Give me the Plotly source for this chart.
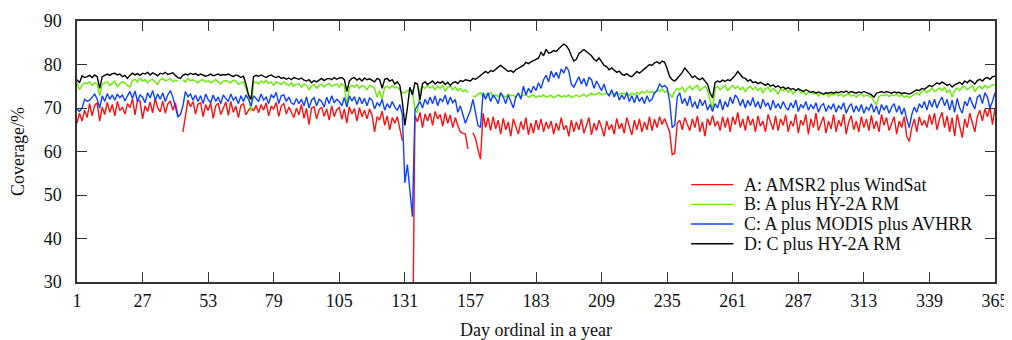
import plotly.graph_objects as go

# ---- Data ----
series_names = ["A: AMSR2 plus WindSat", "B: A plus HY-2A RM",
                "C: A plus MODIS plus AVHRR", "D: C plus HY-2A RM"]
series_colors = ["#ff1010", "#66ee00", "#1040ff", "#000000"]

x_ticks = [1, 27, 53, 79, 105, 131, 157, 183, 209, 235, 261, 287, 313, 339, 365]
y_ticks = [30, 40, 50, 60, 70, 80, 90]

cov_A = [
    66.5, 68.8, 67.0, 69.5, 67.8, 71.0, 68.2, 70.6, 71.2, 67.0,
    70.2, 68.5, 71.3, 69.0, 70.8, 68.2, 71.5, 69.4, 70.2, 68.6,
    71.0, 70.1, 72.1, 68.4, 71.8, 71.6, 67.5, 70.5, 69.2, 71.4,
    68.9, 72.2, 70.0, 69.1, 71.6, 68.8, 70.9, 71.6, 69.5, 71.2,
    68.3, None, 64.5, 68.0, 71.8, 70.3, 71.5, 68.6, 70.9, 71.2,
    68.0, 70.8, 69.4, 71.2, 67.6, 70.5, 71.1, 68.5, 70.0, 71.4,
    68.3, 71.5, 69.0, 70.4, 67.8, 70.6, 71.0, 68.4, 69.5, 70.2,
    69.3, 70.6, 68.9, 70.8, 69.5, 71.2, 68.2, 70.4, 69.8, 71.3,
    68.0, 70.5, 71.0, 68.6, 70.2, 69.1, 67.8, 70.0, 68.4, 70.8,
    67.6, 69.9, 66.2, 70.0, 70.3, 67.5, 69.6, 70.2, 68.1, 69.8,
    67.2, 70.5, 68.0, 69.6, 70.1, 67.4, 69.8, 66.5, 70.3, 68.6,
    69.9, 67.0, 70.1, 68.0, 69.5, 67.5, 69.8, 68.3, 64.5, 68.0,
    67.2, 69.3, 66.0, 68.2, 65.0, 67.8, 66.5, 68.0, 64.8, 62.5,
    None, None, None, 10.0, 68.3, 66.8, 69.0, 65.5, 68.6, 67.0,
    68.8, 66.0, 69.2, 67.5, 68.5, 65.8, 68.9, 66.5, 68.4, 65.5,
    67.8, 66.0, 64.5, 64.2, 64.0, 60.6, None, 64.3, 63.0, 60.5,
    58.2, 68.8, 65.5, 67.8, 64.8, 68.0, 65.2, 67.2, 64.0, 67.6,
    65.0, 66.8, 63.5, 67.5, 65.8, 64.0, 66.9, 65.0, 67.8, 63.8,
    66.5, 64.2, 67.2, 65.0, 67.5, 64.5, 66.8, 65.2, 67.0, 64.0,
    66.5, 64.8, 67.8, 65.0, 66.0, 63.5, 67.2, 64.5, 66.8, 65.0,
    67.5, 64.2, 66.0, 67.8, 63.8, 66.5, 64.8, 67.2, 65.5, 63.5,
    67.0, 65.0, 66.2, 64.0, 67.6, 65.2, 66.5, 64.2, 67.8, 65.5,
    63.8, 67.2, 65.0, 67.5, 64.5, 66.8, 65.0, 68.0, 64.8, 67.4,
    65.5, 68.0, 66.2, 67.6, 66.0, 64.5, 59.3, 59.6, 66.5, 67.2,
    65.0, 67.8, 66.2, 64.8, 67.5, 65.5, 68.2, 64.5, 66.8, 63.5,
    67.5, 66.0, 68.3, 65.8, 67.0, 64.8, 68.0, 65.5, 67.8, 64.5,
    68.0, 66.2, 69.0, 65.5, 67.5, 64.8, 68.2, 66.0, 67.5, 64.5,
    68.2, 65.8, 67.0, 64.5, 68.5, 66.5, 65.0, 68.2, 64.8, 67.5,
    66.0, 68.4, 64.5, 67.0, 65.8, 68.6, 64.2, 67.2, 66.0, 68.5,
    64.0, 67.5, 65.5, 68.8, 64.8, 66.5, 68.0, 64.2, 67.0, 65.2,
    68.5, 64.5, 67.2, 65.8, 68.6, 64.0, 66.8, 68.2, 65.0, 67.0,
    64.5, 68.0, 65.5, 67.5, 64.8, 68.3, 65.2, 67.0, 64.5, 68.5,
    66.0, 67.8, 64.8, 66.5, 68.0, 64.0, 67.0, 65.5, 68.0, 63.5,
    62.3, 65.5, 67.5, 64.5, 68.0, 66.0, 67.2, 65.5, 68.5, 66.2,
    68.8, 65.0, 67.5, 69.0, 65.5, 68.2, 64.5, 67.8, 63.5, 68.5,
    66.0, 63.2, 67.5, 65.5, 68.8, 66.5, 64.5, 68.0, 69.5, 67.0,
    69.8, 68.0, 70.2, 66.2, 70.0,
]

cov_B = [
    75.8, 74.2, 75.2, 75.8, 75.6, 76.0, 75.2, 75.8, 75.5, 72.8,
    75.5, 75.8, 76.0, 75.2, 75.8, 76.2, 74.8, 75.6, 76.0, 75.8,
    75.2, 74.8, 76.3, 76.6, 76.0, 76.8, 76.2, 76.5, 75.8, 76.4,
    76.6, 76.0, 75.4, 76.5, 76.8, 76.2, 76.5, 76.7, 76.0, 76.4,
    76.2, None, 76.5, 76.0, 76.8, 76.3, 76.5, 76.2, 75.8, 76.4,
    76.5, 76.0, 76.3, 75.8, 76.2, 76.5, 76.0, 75.5, 76.2, 76.3,
    76.0, 75.8, 76.4, 76.2, 75.5, 75.8, 76.0, 74.5, 73.0, 69.2,
    75.8, 76.0, 75.5, 76.2, 75.8, 76.4, 75.6, 76.0, 75.2, 76.0,
    75.8, 75.4, 76.0, 75.5, 75.2, 75.8, 75.0, 75.5, 75.6, 74.8,
    75.5, 75.2, 74.2, 75.0, 75.4, 74.5, 75.2, 75.5, 74.8, 75.4,
    75.6, 75.0, 75.2, 75.5, 74.8, 75.6, 75.0, 70.5, 74.8, 75.2,
    74.8, 75.4, 74.5, 75.2, 75.0, 74.2, 75.2, 75.0, 74.5, 72.5,
    74.0, 72.0, 74.8, 75.0, 74.5, 75.2, 74.6, 74.8, 74.2, 73.5,
    73.5, 74.0, 74.2, 74.0, 69.5, 69.0, 74.2, 75.0, 74.5, 75.2,
    74.6, 75.0, 74.2, 75.0, 74.5, 75.3, 73.8, 74.8, 75.0, 74.2,
    74.8, 74.0, 74.5, 73.8, 74.2, 73.5, None, 72.8, 72.6, 73.2,
    73.5, 72.5, 73.2, 72.8, 73.6, 72.4, 73.0, 72.6, 73.4, 72.8,
    72.5, 73.2, 72.8, 73.0, 72.4, 73.2, 72.6, 72.9, 73.1, 72.5,
    72.8, 73.0, 72.4, 72.8, 72.6, 73.0, 72.5, 72.7, 72.9, 72.4,
    72.8, 73.0, 72.5, 72.8, 72.6, 73.0, 72.4, 72.8, 73.0, 72.6,
    72.8, 73.2, 72.6, 73.0, 73.4, 73.0, 73.2, 73.6, 73.0, 73.2,
    73.4, 73.0, 73.5, 73.2, 73.6, 73.0, 73.4, 73.2, 73.6, 72.8,
    73.4, 73.0, 73.6, 73.2, 73.8, 73.4, 74.0, 73.5, 73.8, 73.2,
    74.2, 73.8, 74.4, 73.6, 74.0, 73.2, 72.5, 73.8, 74.5, 74.2,
    74.8, 73.6, 74.5, 75.0, 74.2, 74.8, 75.2, 74.0, 74.6, 75.0,
    74.2, 72.0, 69.5, 74.5, 75.0, 74.2, 74.8, 75.2, 74.0, 74.6,
    75.2, 74.5, 75.0, 74.2, 74.8, 73.8, 74.6, 75.0, 74.2, 74.8,
    74.0, 74.6, 73.5, 74.4, 74.8, 73.8, 74.5, 74.0, 73.2, 74.4,
    74.0, 74.5, 73.6, 74.2, 73.2, 74.0, 74.4, 73.5, 73.8, 73.0,
    73.6, 73.8, 73.2, 73.6, 72.8, 73.5, 73.0, 73.4, 72.6, 73.2,
    73.0, 73.4, 72.8, 73.2, 72.6, 73.0, 73.3, 72.7, 73.0, 72.5,
    73.0, 73.2, 72.6, 73.0, 72.8, 72.5, 71.5, 70.8, 72.6, 73.0,
    72.8, 73.2, 72.6, 73.0, 72.8, 73.2, 72.6, 73.0, 72.5, 72.8,
    72.4, 72.8, 73.2, 73.5, 73.0, 73.8, 74.2, 73.5, 74.0, 74.5,
    73.8, 74.2, 74.6, 74.0, 74.8, 73.5, 74.2, 72.5, 74.0, 74.6,
    74.0, 74.8, 75.0, 74.2, 74.8, 75.2, 73.8, 74.6, 75.0, 74.4,
    75.2, 74.6, 75.0, 75.4, 75.2,
]

cov_C = [
    69.8, 69.2, 70.0, 72.0, 71.5, 71.8, 72.5, 73.2, 72.0, 70.0,
    72.8, 71.5, 73.3, 72.0, 73.0, 71.8, 73.2, 72.4, 73.0, 71.6,
    72.8, 73.8, 72.2, 73.9, 71.5, 73.0, 72.5, 71.2, 73.5, 72.3,
    74.0, 71.8, 73.2, 72.0, 73.5, 71.5, 73.0, 74.0, 72.5, 70.0,
    68.0, 68.5, 70.5, 73.8, 72.6, 73.2, 71.8, 73.0, 71.5, 72.8,
    71.0, 73.2, 72.0, 71.2, 73.0, 71.5, 72.5, 71.0, 73.0, 72.2,
    71.5, 73.2, 71.8, 72.5, 71.0, 72.8, 71.5, 73.0, 72.0, 70.5,
    72.8, 72.2, 71.5, 73.2, 71.8, 72.5, 71.0, 73.0, 72.4, 73.6,
    71.0, 72.8, 73.0, 71.5, 72.5, 71.2, 70.8, 72.2, 71.0, 72.0,
    70.5, 72.6, 70.0, 71.8, 72.4, 70.5, 72.0, 71.5, 70.2, 72.5,
    71.0, 72.8, 71.2, 72.0, 71.5, 70.5, 72.4, 70.2, 72.8, 71.6,
    72.6, 70.8, 72.5, 71.0, 72.2, 70.5, 72.3, 71.8, 69.8, 71.2,
    70.5, 72.0, 69.5, 71.0, 70.0, 71.5, 70.2, 69.5, 70.8, 68.5,
    52.8, 57.0, 51.0, 45.0, 69.5, 70.5, 71.5, 70.0, 72.0, 70.8,
    72.5, 71.0, 72.8, 70.5, 72.2, 71.5, 73.0, 70.8, 72.5, 71.2,
    72.0, 69.0, 70.5, 68.5, 66.5, 68.0, 69.5, 72.0, 68.5, 66.0,
    65.5, 73.5, 72.0, 73.5, 71.5, 73.0, 72.2, 71.0, 73.5, 72.5,
    71.0, 73.0, 71.5, 70.0, 72.5, 73.5, 72.0, 75.0, 73.0, 74.5,
    73.5, 75.0, 74.0, 75.8, 74.5, 76.5, 77.5, 76.0, 78.5, 77.0,
    78.2, 76.8, 79.0, 78.0, 79.5, 78.5, 75.5, 74.8, 76.0, 77.2,
    75.5, 76.8, 75.0, 77.0, 76.5, 74.5, 76.2, 75.0, 74.0, 75.5,
    73.5, 72.8, 74.2, 72.5, 73.8, 71.8, 73.0, 72.0, 73.5, 71.5,
    72.8, 71.2, 73.0, 71.5, 72.5, 71.0, 72.8, 71.5, 72.0, 73.5,
    74.0, 75.5, 74.8, 75.2, 74.6, 71.5, 65.5, 66.0, 72.5, 73.5,
    71.0, 72.2, 70.5, 72.8, 70.2, 71.5, 69.8, 72.0, 70.5, 71.8,
    69.5, 70.8, 69.2, 71.0, 70.0, 72.0, 69.5, 71.5, 70.2, 72.5,
    71.0, 73.0, 72.2, 70.5, 72.0, 70.0, 71.8, 70.5, 72.4, 70.2,
    71.5, 69.8, 72.0, 70.5, 71.2, 69.5, 71.8, 70.0, 71.0, 69.8,
    71.5, 70.2, 69.5, 71.2, 70.0, 71.8, 69.2, 70.8, 70.0, 71.5,
    69.5, 70.8, 69.8, 71.2, 69.0, 70.5, 71.0, 69.2, 70.5, 69.8,
    71.0, 69.0, 70.5, 69.8, 71.2, 68.8, 70.2, 71.0, 69.0, 70.5,
    69.2, 70.8, 68.8, 70.2, 69.5, 71.0, 69.0, 70.5, 68.5, 70.8,
    69.5, 70.6, 68.8, 70.2, 71.0, 69.0, 70.5, 68.5, 70.0, 67.5,
    65.5, 68.5, 70.2, 69.0, 71.0, 70.0, 71.5, 69.5, 71.8, 70.2,
    72.0, 70.0, 71.5, 72.5, 70.5, 72.0, 69.5, 71.8, 69.0, 72.2,
    70.0, 68.8, 71.5, 70.5, 72.5, 71.0, 69.8, 72.5, 73.0, 71.0,
    73.5, 72.5, 70.0, 71.5, 73.5,
]

cov_D = [
    76.5, 75.8, 77.4, 77.0, 77.2, 77.5, 77.0, 77.6, 77.2, 74.5,
    77.2, 77.6, 77.8, 77.5, 77.9, 78.0, 77.6, 77.8, 77.2, 77.5,
    76.8, 77.5, 78.0, 77.6, 77.9, 77.5, 78.0, 77.8, 78.2, 77.6,
    78.1, 77.8, 77.4, 78.0, 77.8, 78.2, 77.7, 77.9, 78.1, 77.5,
    77.0, 76.8, 77.5, 77.8, 77.6, 78.0, 77.7, 77.9, 77.5, 77.8,
    77.6, 77.3, 77.5, 77.8, 77.4, 77.6, 77.8, 77.5, 77.7, 77.6,
    77.8, 77.5, 77.2, 77.6, 77.4, 77.0, 77.3, 75.5, 73.0, 72.0,
    77.2, 77.5, 77.3, 77.6, 77.2, 77.0, 77.4, 77.6, 77.2, 77.0,
    77.3, 76.8, 77.0, 76.6, 76.9, 76.5, 77.0, 76.8, 76.6, 76.9,
    76.4, 76.2, 76.5, 75.8, 76.3, 76.0, 76.5, 76.8, 76.3, 76.7,
    76.8, 76.5, 77.0, 76.6, 76.9, 77.0, 76.5, 73.8, 76.2, 76.8,
    77.0, 76.4, 76.8, 76.2, 76.9, 76.5, 76.7, 76.3, 76.0, 76.8,
    76.5, 74.5, 76.6, 76.8, 76.2, 76.5, 75.5, 76.0, 75.2, 71.5,
    66.0, 70.0, 74.8, 73.0, 75.8, 75.5, 71.8, 75.6, 76.0, 75.4,
    75.8, 76.2, 75.5, 76.0, 75.7, 76.1, 75.4, 75.9, 75.2, 75.8,
    76.0, 75.6, 76.3, 76.1, 76.5, 76.4, 76.2, 76.8, 76.6, 77.0,
    77.4, 77.8, 78.4, 78.0, 78.6, 78.4, 79.0, 79.4, 79.8, 79.3,
    78.8, 78.4, 78.6, 78.2, 78.8, 79.2, 79.5, 79.8, 80.5, 80.2,
    80.6, 81.0, 81.2, 81.5, 82.8, 82.0, 83.5, 82.6, 82.8, 83.2,
    83.0, 83.6, 84.2, 84.7, 84.3, 83.5, 82.0, 80.8, 81.2, 82.5,
    83.0, 83.4, 83.0, 82.6, 82.0, 81.2, 80.8, 81.5, 80.6, 79.8,
    79.5, 78.8, 79.2, 78.6, 78.2, 78.5, 77.8, 77.5, 77.9, 77.4,
    77.2, 77.8, 78.4, 78.0, 78.6, 79.0, 79.5, 80.0, 79.8, 80.4,
    80.6, 80.2, 80.8, 80.5, 79.0, 77.2, 76.5, 76.2, 76.8, 77.5,
    78.2, 79.2, 78.6, 77.8, 77.0, 77.4, 76.8, 76.5, 76.9, 76.2,
    75.5, 73.5, 72.3, 75.8, 76.2, 76.0, 76.4, 76.1, 76.5, 76.3,
    76.8, 77.5, 78.4, 77.6, 77.0, 76.8, 76.2, 76.5, 75.8, 76.0,
    75.6, 75.9, 75.5, 75.2, 75.6, 75.0, 75.3, 74.8, 75.1, 74.6,
    74.8, 74.4, 74.7, 74.3, 74.5, 74.0, 74.4, 74.1, 73.8, 74.2,
    73.9, 73.6, 73.8, 73.4, 73.7, 73.5, 73.2, 73.5, 73.4, 73.6,
    73.4, 73.7, 73.5, 73.8, 73.6, 73.9, 73.5, 73.8, 73.6, 73.4,
    73.7, 73.5, 73.8, 73.6, 73.3, 73.0, 72.5, 73.4, 73.6, 73.8,
    73.5, 73.8, 73.6, 73.4, 73.7, 73.5, 73.6, 73.3, 73.5, 73.4,
    73.2, 73.5, 73.8, 74.2, 74.0, 74.5, 74.3, 74.8, 75.2, 74.9,
    75.4, 75.8, 75.5, 76.0, 75.6, 75.2, 75.5, 74.8, 75.3, 75.6,
    75.9, 75.4, 76.2, 75.8, 76.4, 76.0, 75.5, 76.3, 76.6, 76.2,
    76.8, 77.0, 76.6, 77.2, 77.3,
]

all_series = [cov_A, cov_B, cov_C, cov_D]

FONT = "Liberation Serif"
TEXT_COLOR = "#111111"

fig = go.Figure()
for name, color, vals in zip(series_names, series_colors, all_series):
    days = list(range(1, len(vals) + 1))
    fig.add_trace(go.Scatter(x=days, y=vals, mode="lines", name=name,
                             line=dict(color=color, width=1.4),
                             connectgaps=False, showlegend=False))

# Legend drawn as line samples + text (spacing of the original legend)
leg_x0, leg_x1, leg_tx = 0.669, 0.715, 0.724   # paper fractions
leg_y0, leg_dy = 0.373, 0.0755
for i, (name, color) in enumerate(zip(series_names, series_colors)):
    yy = leg_y0 - i * leg_dy
    fig.add_shape(type="line", xref="paper", yref="paper",
                  x0=leg_x0, x1=leg_x1, y0=yy, y1=yy,
                  line=dict(color=color, width=1.4))
    fig.add_annotation(xref="paper", yref="paper", x=leg_tx, y=yy,
                       xanchor="left", yanchor="middle", text=name,
                       showarrow=False,
                       font=dict(family=FONT, size=18, color=TEXT_COLOR))

# The page body has an 8px margin, so the figure is sized/offset to fit the window
fig.update_layout(
    width=1004, height=332,
    margin=dict(l=69, r=17, t=13, b=58),
    paper_bgcolor="white", plot_bgcolor="white",
    font=dict(family=FONT, size=18, color=TEXT_COLOR),
    showlegend=False,
    xaxis=dict(range=[1, 365], tickmode="array", tickvals=x_ticks,
               ticktext=[str(t) for t in x_ticks], automargin=False,
               ticks="inside", ticklen=10, tickwidth=1.2, tickcolor="#333",
               showline=True, linecolor="#333", linewidth=1.5, mirror="ticks",
               showgrid=False, zeroline=False, ticklabelstandoff=2,
               tickfont=dict(family=FONT, size=18, color=TEXT_COLOR),
               title=dict(text="Day ordinal in a year", standoff=14,
                          font=dict(family=FONT, size=18, color=TEXT_COLOR))),
    yaxis=dict(range=[30, 90], tickmode="array", tickvals=y_ticks,
               automargin=False,
               ticks="inside", ticklen=10, tickwidth=1.2, tickcolor="#333",
               showline=True, linecolor="#333", linewidth=1.5, mirror="ticks",
               showgrid=False, zeroline=False, ticklabelstandoff=10,
               tickfont=dict(family=FONT, size=18, color=TEXT_COLOR),
               title=dict(text="Coverage/%", standoff=14,
                          font=dict(family=FONT, size=18, color=TEXT_COLOR))),
)

fig.write_html("out.html")
